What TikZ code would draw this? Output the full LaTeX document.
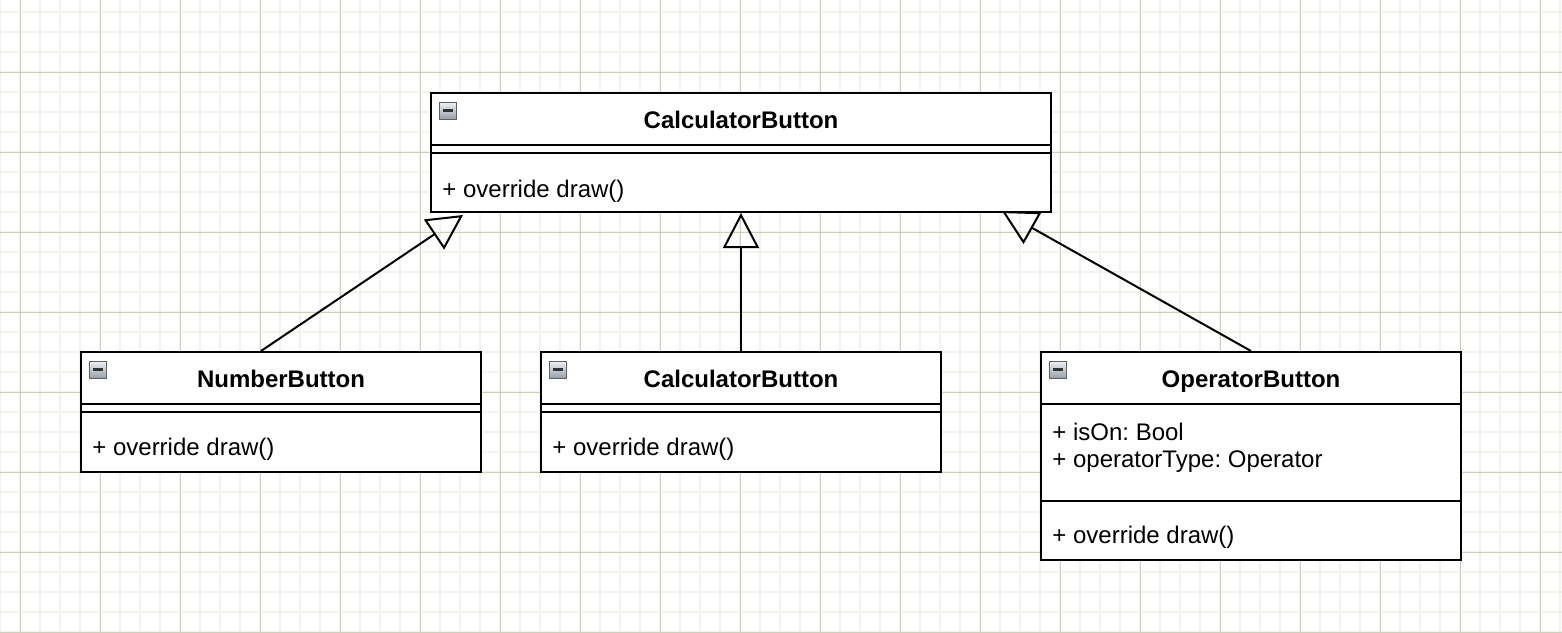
\documentclass[tikz,border=0pt]{standalone}
\usepackage{fontspec}
\setmainfont{Liberation Sans}
\frenchspacing
\usetikzlibrary{arrows.meta,positioning}
\definecolor{gridminor}{RGB}{243,243,238}
\definecolor{gridmajor}{RGB}{208,206,184}
\definecolor{icontop}{RGB}{238,241,245}
\definecolor{iconbot}{RGB}{150,160,172}

\tikzset{
  classbox/.style={draw,line width=1pt,fill=white,rectangle,inner sep=0pt},
  classname/.style={font=\bfseries\fontsize{12}{14}\selectfont,anchor=base,inner sep=0pt},
  member/.style={font=\fontsize{12}{14}\selectfont,anchor=base west,inner sep=0pt},
  inherit/.style={-{Triangle[open,length=17.5pt,width=18pt,line width=1pt]},line width=1pt},
}
% little collapse icon in the corner of a class box
\newcommand{\minusicon}[1]{
  \draw[draw=gray!75!black,line width=0.5pt,top color=icontop,bottom color=iconbot]
    ([shift={(9,10)}]#1.north west) rectangle ++(17,17);
  \draw[line width=1.5pt,black!80] ([shift={(12.5,18.5)}]#1.north west) -- ++(10,0);
}

\begin{document}
\begin{tikzpicture}[x=0.5pt,y=-0.5pt]
\useasboundingbox (0,0) rectangle (1562,632);
% background grid
\foreach \x in {0,20,...,1560} \draw[gridminor,line width=0.75pt] (\x,0) -- (\x,632);
\foreach \y in {12,32,...,632} \draw[gridminor,line width=0.75pt] (0,\y) -- (1562,\y);
\foreach \x in {20,100,...,1540} \draw[gridmajor,line width=0.5pt] (\x,0) -- (\x,632);
\foreach \y in {72,152,...,632} \draw[gridmajor,line width=0.5pt] (0,\y) -- (1562,\y);

% classes
\node[classbox,minimum width=310pt,minimum height=59.5pt] (CalcBtn) at (741,152.5) {};
\node[classbox,minimum width=200pt,minimum height=60pt] (NumberBtn) at (281,412) {};
\node[classbox,minimum width=200pt,minimum height=60pt] (MiddleBtn) at (741,412) {};
\node[classbox,minimum width=210pt,minimum height=104pt] (OperatorBtn) at (1251,456) {};

\foreach \c in {CalcBtn,NumberBtn,MiddleBtn,OperatorBtn} {\minusicon{\c}}

\node[classname] (CalcBtnName) at (741,128) {CalculatorButton};
\node[classname] (NumberBtnName) at (281,387) {NumberButton};
\node[classname] (MiddleBtnName) at (741,387) {CalculatorButton};
\node[classname] (OperatorBtnName) at (1251,387) {OperatorButton};

\begin{scope}[line width=1pt]
\draw (CalcBtn.west |- 0,145) -- (CalcBtn.east |- 0,145);
\draw (CalcBtn.west |- 0,153) -- (CalcBtn.east |- 0,153);
\draw (NumberBtn.west |- 0,404) -- (NumberBtn.east |- 0,404);
\draw (NumberBtn.west |- 0,412) -- (NumberBtn.east |- 0,412);
\draw (MiddleBtn.west |- 0,404) -- (MiddleBtn.east |- 0,404);
\draw (MiddleBtn.west |- 0,412) -- (MiddleBtn.east |- 0,412);
\draw (OperatorBtn.west |- 0,404) -- (OperatorBtn.east |- 0,404);
\draw (OperatorBtn.west |- 0,501) -- (OperatorBtn.east |- 0,501);
\end{scope}

\node[member] (CalcBtnDraw) at (442,197.5) {+ override draw()};
\node[member] (NumberBtnDraw) at (92,455.5) {+ override draw()};
\node[member] (MiddleBtnDraw) at (552,455.5) {+ override draw()};
\node[member] (OperatorBtnIsOn) at (1052,440) {+ isOn: Bool};
\node[member] (OperatorBtnType) at (1052,467.5) {+ operatorType: Operator};
\node[member] (OperatorBtnDraw) at (1052,543.5) {+ override draw()};

% generalisation arrows
\coordinate (TipL) at (463,215);
\coordinate (TipR) at (1002,211);
\draw[inherit] ([xshift=-10pt]NumberBtn.north) -- (TipL);
\draw[inherit] (MiddleBtn.north) -- (CalcBtn.south);
\draw[inherit] (OperatorBtn.north) -- (TipR);
\end{tikzpicture}
\end{document}
